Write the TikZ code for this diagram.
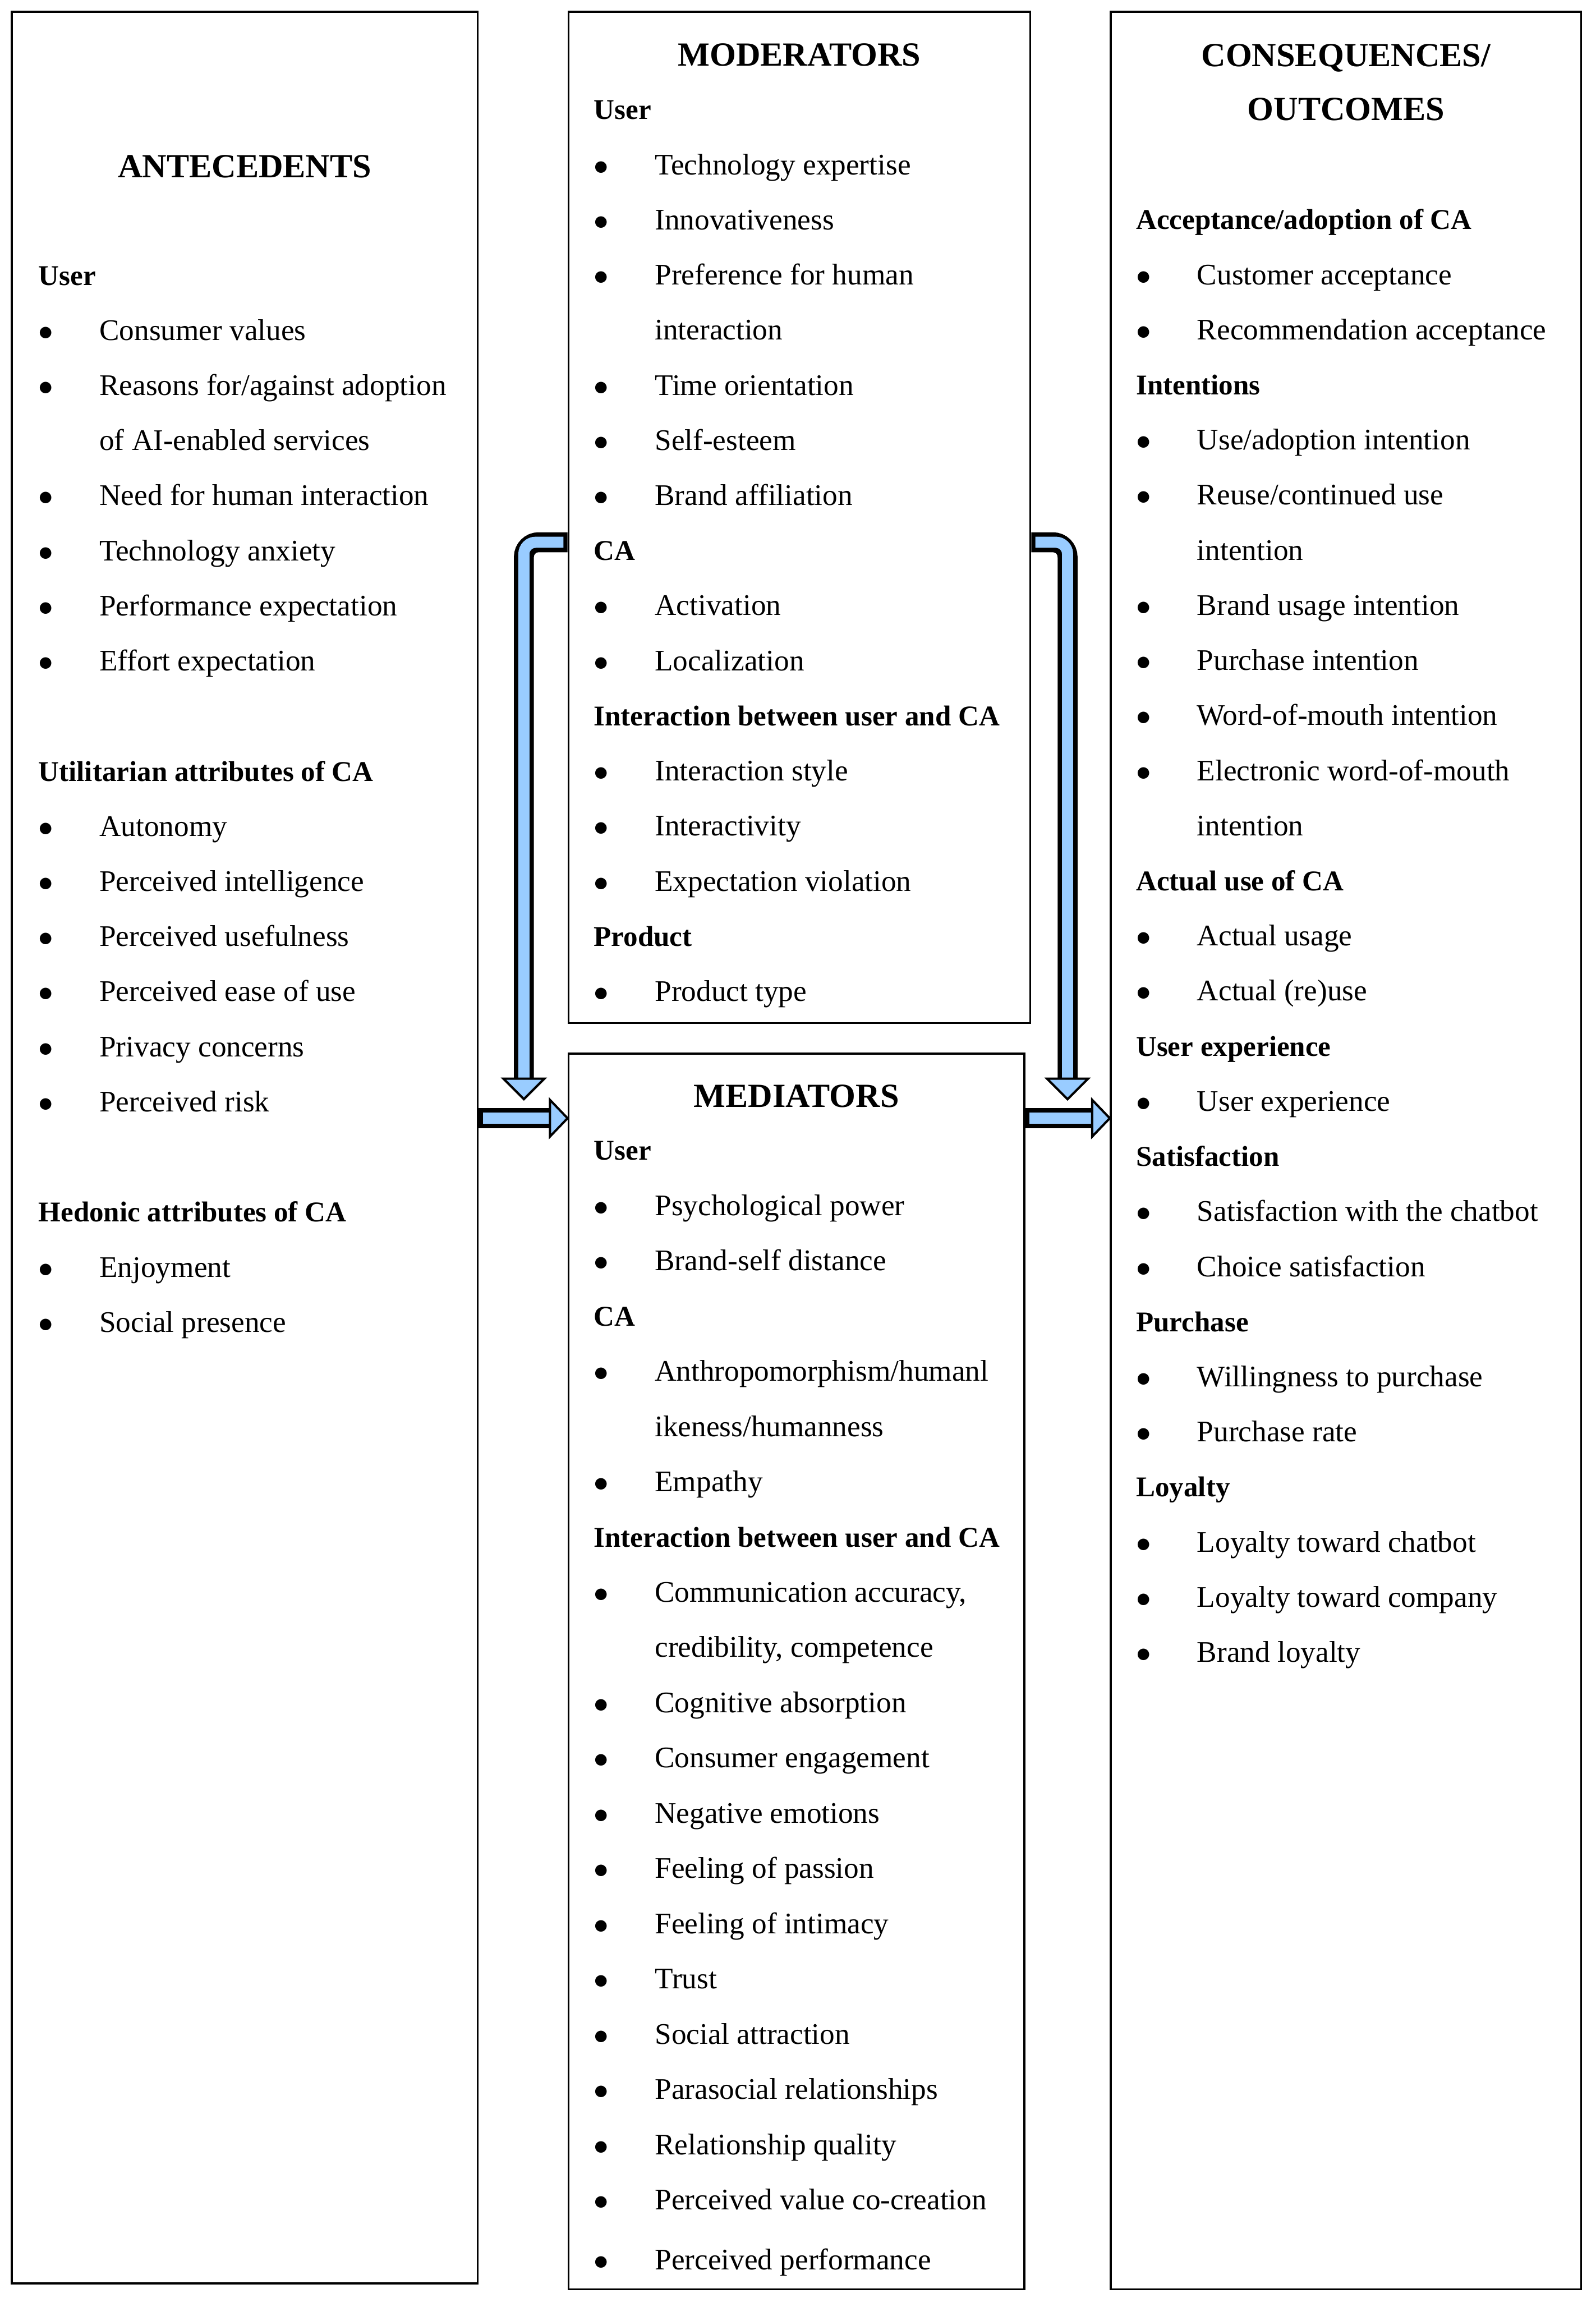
\documentclass[tikz,border=0pt]{standalone}
\usepackage{fontspec}
\setmainfont{Liberation Serif}
\usetikzlibrary{fit}
\definecolor{arrowblue}{RGB}{153,204,255}

\begin{document}
\begin{tikzpicture}[x=0.025cm, y=-0.025cm]
    \tikzset{
        panel/.style={draw, line width=1pt, inner sep=0pt},
        item/.style={anchor=base west, inner sep=0pt, font=\fontsize{14.5}{17}\selectfont},
        hd/.style={item, font=\fontsize{13.9}{17}\selectfont\bfseries},
        bul/.style={item, execute at begin node={\makebox[1.04cm][l]{$\bullet$}}},
        cont/.style={item, xshift=1.04cm},
        title/.style={anchor=base, inner sep=0pt, font=\fontsize{16.4}{19}\selectfont\bfseries},
        shaft/.style={line width=0.34cm, rounded corners=0.25cm},
        core/.style={line width=0.19cm, arrowblue, rounded corners=0.2cm},
        tip/.style={draw, fill=arrowblue, line width=1.1pt, line join=miter}
    }
    \useasboundingbox (0,0) rectangle (1089,1568);

    \draw node[panel, fit={(8,8) (326,1558)}] (ante) {};
    \draw node[panel, fit={(388,8) (703,698)}] (mod) {};
    \draw node[panel, fit={(388,719) (699,1562)}] (med) {};
    \draw node[panel, fit={(758,8) (1079,1562)}] (cons) {};

    \draw node[title] (ante-t) at (ante.center |- 0,121) {ANTECEDENTS};
    \draw node[title] (mod-t) at (mod.center |- 0,45) {MODERATORS};
    \draw node[title] (med-t) at (med.center |- 0,755.5) {MEDIATORS};
    \draw node[title] (cons-t) at (cons.center |- 0,45.5) {CONSEQUENCES/};
    \draw node[title] (cons-u) at (cons.center |- 0,82) {OUTCOMES};

    \foreach \k/\s/\t [count=\n] in {%
        0/hd/User, 1/bul/Consumer values, 2/bul/{Reasons for/against adoption},
        3/cont/of AI-enabled services, 4/bul/Need for human interaction,
        5/bul/Technology anxiety, 6/bul/Performance expectation, 7/bul/Effort expectation,
        9/hd/Utilitarian attributes of CA, 10/bul/Autonomy, 11/bul/Perceived intelligence,
        12/bul/Perceived usefulness, 13/bul/Perceived ease of use, 14/bul/Privacy concerns,
        15/bul/Perceived risk, 17/hd/Hedonic attributes of CA, 18/bul/Enjoyment,
        19/bul/Social presence%
    }{
        \node[\s] (a\n) at (26,194.5+37.6*\k) {\t};
    }

    \foreach \k/\s/\t [count=\n] in {%
        0/hd/User, 1/bul/Technology expertise, 2/bul/Innovativeness,
        3/bul/Preference for human, 4/cont/interaction, 5/bul/Time orientation,
        6/bul/Self-esteem, 7/bul/Brand affiliation, 8/hd/CA, 9/bul/Activation,
        10/bul/Localization, 11/hd/Interaction between user and CA,
        12/bul/Interaction style, 13/bul/Interactivity, 14/bul/Expectation violation,
        15/hd/Product, 16/bul/Product type%
    }{
        \node[\s] (m\n) at (405,81.5+37.6*\k) {\t};
    }

    \foreach \k/\s/\t [count=\n] in {%
        0/hd/User, 1/bul/Psychological power, 2/bul/Brand-self distance, 3/hd/CA,
        4/bul/{Anthropomorphism/humanl}, 5/cont/{ikeness/humanness}, 6/bul/Empathy,
        7/hd/Interaction between user and CA, 8/bul/{Communication accuracy,},
        9/cont/{credibility, competence}, 10/bul/Cognitive absorption,
        11/bul/Consumer engagement, 12/bul/Negative emotions, 13/bul/Feeling of passion,
        14/bul/Feeling of intimacy, 15/bul/Trust, 16/bul/Social attraction,
        17/bul/Parasocial relationships, 18/bul/Relationship quality,
        19/bul/Perceived value co-creation, 20.08/bul/Perceived performance%
    }{
        \node[\s] (d\n) at (405,791.5+37.7*\k) {\t};
    }

    \foreach \k/\s/\t [count=\n] in {%
        0/hd/{Acceptance/adoption of CA}, 1/bul/Customer acceptance,
        2/bul/Recommendation acceptance, 3/hd/Intentions, 4/bul/{Use/adoption intention},
        5/bul/{Reuse/continued use}, 6/cont/intention, 7/bul/Brand usage intention,
        8/bul/Purchase intention, 9/bul/Word-of-mouth intention,
        10/bul/Electronic word-of-mouth, 11/cont/intention, 12/hd/Actual use of CA,
        13/bul/Actual usage, 14/bul/Actual (re)use, 15/hd/User experience,
        16/bul/User experience, 17/hd/Satisfaction, 18/bul/Satisfaction with the chatbot,
        19/bul/Choice satisfaction, 20/hd/Purchase, 21/bul/Willingness to purchase,
        22/bul/Purchase rate, 23/hd/Loyalty, 24/bul/Loyalty toward chatbot,
        25/bul/Loyalty toward company, 26/bul/Brand loyalty%
    }{
        \node[\s] (c\n) at (775,156.5+37.6*\k) {\t};
    }

    \coordinate (ldrop) at (357.5,750);
    \coordinate (rdrop) at (728.5,750);

    \draw[shaft, shorten >=0.34cm] (mod.west |- 0,370) -| (ldrop);
    \draw[core, shorten >=0.34cm, shorten <=0.07cm] (mod.west |- 0,370) -| (ldrop);
    \draw[tip] (ldrop) -- ++(-14,-14) -- ++(28,0) -- cycle;

    \draw[shaft, shorten >=0.34cm] (mod.east |- 0,370) -| (rdrop);
    \draw[core, shorten >=0.34cm, shorten <=0.07cm] (mod.east |- 0,370) -| (rdrop);
    \draw[tip] (rdrop) -- ++(-14,-14) -- ++(28,0) -- cycle;

    \draw[shaft, shorten >=0.3cm] (ante.east |- 0,763) -- (med.west |- 0,763);
    \draw[core, shorten >=0.3cm, shorten <=0.07cm] (ante.east |- 0,763) -- (med.west |- 0,763);
    \draw[tip] (med.west |- 0,763) -- ++(-12,-12.5) -- ++(0,25) -- cycle;

    \draw[shaft, shorten >=0.3cm] (med.east |- 0,763) -- (cons.west |- 0,763);
    \draw[core, shorten >=0.3cm, shorten <=0.07cm] (med.east |- 0,763) -- (cons.west |- 0,763);
    \draw[tip] (cons.west |- 0,763) -- ++(-12,-12.5) -- ++(0,25) -- cycle;
\end{tikzpicture}
\end{document}
